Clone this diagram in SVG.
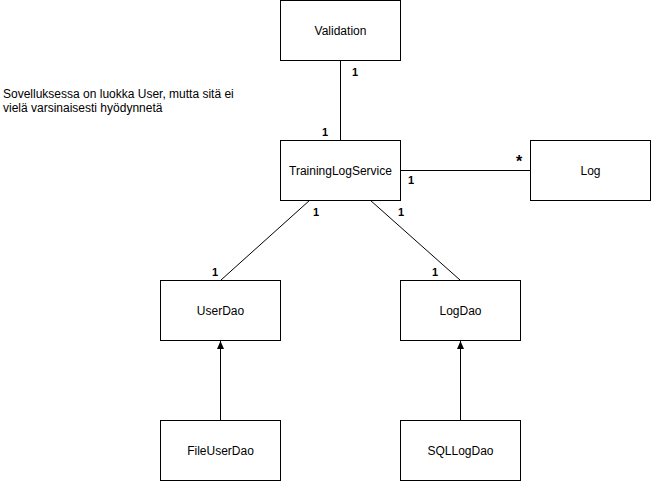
<svg xmlns="http://www.w3.org/2000/svg" width="651" height="481" viewBox="0 0 651 481">
<style>
.box{fill:#fff;stroke:#000;stroke-width:1}
.t{font-family:"Liberation Sans",Arial,sans-serif;font-size:12px;fill:#000;text-anchor:middle}
.n{font-family:"Liberation Sans",Arial,sans-serif;font-size:11px;font-weight:bold;fill:#000}
.c{stroke:#000;stroke-width:1;fill:none}
</style>
<defs>
<marker id="arr" markerWidth="9" markerHeight="9" refX="8" refY="4.5" orient="auto" markerUnits="userSpaceOnUse">
<path d="M0,1 L8,4.5 L0,8 Z" fill="#000"/>
</marker>
</defs>
<rect width="651" height="481" fill="#fff"/>
<g id="connectors">
<line class="c" x1="340.5" y1="60" x2="340.5" y2="140"/>
<line class="c" x1="400" y1="170.5" x2="530" y2="170.5"/>
<line class="c" x1="310" y1="200" x2="221" y2="280"/>
<line class="c" x1="370" y1="200" x2="460" y2="280"/>
<line class="c" x1="220.5" y1="420" x2="220.5" y2="341" marker-end="url(#arr)"/>
<line class="c" x1="460.5" y1="420" x2="460.5" y2="341" marker-end="url(#arr)"/>
<text class="n" x="352" y="76">1</text>
<text class="n" x="322" y="136">1</text>
<text class="n" x="516" y="167" style="font-size:16px">*</text>
<text class="n" x="408" y="184">1</text>
<text class="n" x="313" y="216">1</text>
<text class="n" x="398" y="216">1</text>
<text class="n" x="212" y="276">1</text>
<text class="n" x="432" y="276">1</text>
</g>
<g id="note">
<text class="t" style="text-anchor:start" x="3" y="98">Sovelluksessa on luokka User, mutta sitä ei</text>
<text class="t" style="text-anchor:start" x="3" y="112">vielä varsinaisesti hyödynnetä</text>
</g>
<g id="Validation"><rect class="box" x="280.5" y="0.5" width="120" height="60"/><text class="t" x="340.5" y="35">Validation</text></g>
<g id="TrainingLogService"><rect class="box" x="280.5" y="140.5" width="120" height="60"/><text class="t" x="340.5" y="175">TrainingLogService</text></g>
<g id="Log"><rect class="box" x="530.5" y="140.5" width="120" height="60"/><text class="t" x="590.5" y="175">Log</text></g>
<g id="UserDao"><rect class="box" x="160.5" y="280.5" width="120" height="60"/><text class="t" x="220.5" y="315">UserDao</text></g>
<g id="LogDao"><rect class="box" x="400.5" y="280.5" width="120" height="60"/><text class="t" x="460.5" y="315">LogDao</text></g>
<g id="FileUserDao"><rect class="box" x="160.5" y="420.5" width="120" height="60"/><text class="t" x="220.5" y="455">FileUserDao</text></g>
<g id="SQLLogDao"><rect class="box" x="400.5" y="420.5" width="120" height="60"/><text class="t" x="460.5" y="455">SQLLogDao</text></g>
</svg>
